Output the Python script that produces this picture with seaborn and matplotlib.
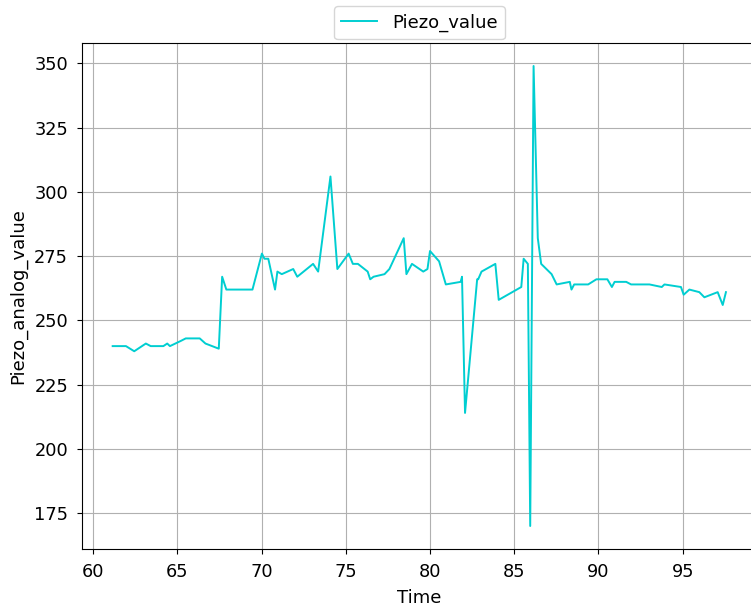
import matplotlib
matplotlib.use("Agg")
import matplotlib.pyplot as plt
import seaborn as sns
import pandas as pd

plt.rcParams.update({'font.size': 13})

time = [61.16, 61.95, 62.44, 63.13, 63.42, 64.17, 64.4, 64.56, 65.2, 65.5,
        66.33, 66.67, 67.46, 67.66, 67.91, 69.46, 70.02, 70.17, 70.4, 70.8,
        70.94, 71.2, 71.88, 72.12, 73.06, 73.36, 74.09, 74.5, 75.17, 75.42,
        75.72, 76.3, 76.45, 76.65, 77.3, 77.59, 78.44, 78.6, 78.93, 79.6,
        79.85, 80.0, 80.54, 80.94, 81.82, 81.9, 82.08, 82.8, 82.86, 83.06,
        83.88, 84.08, 85.42, 85.56, 85.81, 85.95, 86.15, 86.4, 86.6, 87.22,
        87.52, 88.3, 88.4, 88.56, 89.39, 89.88, 90.53, 90.8, 90.96, 91.65,
        91.94, 93.03, 93.76, 93.92, 94.9, 95.06, 95.4, 95.99, 96.29, 97.08,
        97.38, 97.57]
piezo = [240, 240, 238, 241, 240, 240, 241, 240, 242, 243,
         243, 241, 239, 267, 262, 262, 276, 274, 274, 262,
         269, 268, 270, 267, 272, 269, 306, 270, 276, 272,
         272, 269, 266, 267, 268, 270, 282, 268, 272, 269,
         270, 277, 273, 264, 265, 267, 214, 266, 266, 269,
         272, 258, 263, 274, 272, 170, 349, 282, 272, 268,
         264, 265, 262, 264, 264, 266, 266, 263, 265, 265,
         264, 264, 263, 264, 263, 260, 262, 261, 259, 261,
         256, 261]

df = pd.DataFrame({"Time": time, "Piezo_analog_value": piezo})

fig = plt.figure(figsize=(7.51, 6.08), dpi=100)
ax = fig.add_axes([82/751, 1-549/608, 674.6/751, 506/608])
sns.lineplot(data=df, x="Time", y="Piezo_analog_value", ax=ax,
             color="darkturquoise", linewidth=1.4, label="Piezo_value")
ax.grid(True)
ax.set_xticks([60, 65, 70, 75, 80, 85, 90, 95])
ax.set_yticks([175, 200, 225, 250, 275, 300, 325, 350])
ax.tick_params(labelsize=12.8, pad=6.5)
ax.set_xlabel("Time", labelpad=6)
ax.set_ylabel("Piezo_analog_value", labelpad=5)
ax.legend(loc="upper center", bbox_to_anchor=(0.5, 1.09))
plt.savefig("out.png", dpi=100)
plt.close()
